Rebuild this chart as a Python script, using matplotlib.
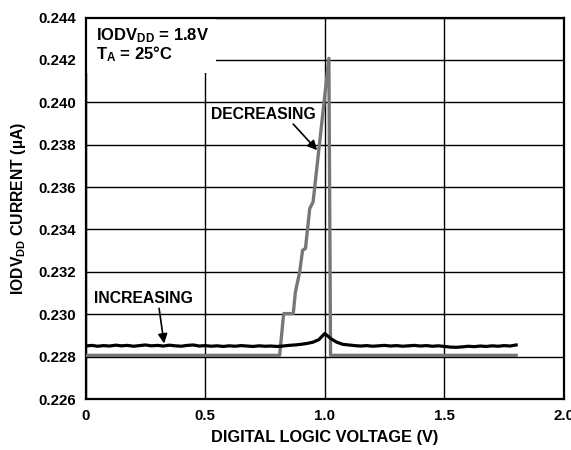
import matplotlib
matplotlib.use("Agg")
import matplotlib.pyplot as plt
from matplotlib.patches import Rectangle

plt.rcParams['font.family'] = ['Liberation Sans', 'DejaVu Sans']
plt.rcParams['font.weight'] = 'bold'
plt.rcParams['mathtext.fontset'] = 'custom'
plt.rcParams['mathtext.rm'] = 'Liberation Sans:bold'
plt.rcParams['mathtext.bf'] = 'Liberation Sans:bold'
plt.rcParams['mathtext.it'] = 'Liberation Sans:bold'

# Increasing sweep (black)
inc_x = [0.000, 0.025, 0.050, 0.075, 0.100, 0.125, 0.150, 0.175, 0.200, 0.225,
         0.250, 0.275, 0.300, 0.325, 0.350, 0.375, 0.400, 0.425, 0.450, 0.475,
         0.500, 0.525, 0.550, 0.575, 0.600, 0.625, 0.650, 0.675, 0.700, 0.725,
         0.750, 0.775, 0.800, 0.825, 0.850, 0.875, 0.900, 0.925, 0.950, 0.975,
         1.000, 1.025, 1.050, 1.075, 1.100, 1.125, 1.150, 1.175, 1.200, 1.225,
         1.250, 1.275, 1.300, 1.325, 1.350, 1.375, 1.400, 1.425, 1.450, 1.475,
         1.500, 1.525, 1.550, 1.575, 1.600, 1.625, 1.650, 1.675, 1.700, 1.725,
         1.750, 1.775, 1.800]
inc_y = [0.22850, 0.22853, 0.22849, 0.22852, 0.22850, 0.22854, 0.22851, 0.22853, 0.22849, 0.22852,
         0.22855, 0.22851, 0.22853, 0.22850, 0.22854, 0.22851, 0.22849, 0.22853, 0.22855, 0.22850,
         0.22852, 0.22849, 0.22851, 0.22848, 0.22851, 0.22849, 0.22852, 0.22850, 0.22848, 0.22851,
         0.22849, 0.22850, 0.22848, 0.22850, 0.22853, 0.22855, 0.22858, 0.22862, 0.22868, 0.22880,
         0.22909, 0.22885, 0.22868, 0.22858, 0.22855, 0.22852, 0.22850, 0.22852, 0.22849, 0.22851,
         0.22853, 0.22850, 0.22852, 0.22849, 0.22851, 0.22853, 0.22850, 0.22852, 0.22849, 0.22851,
         0.22848, 0.22845, 0.22844, 0.22846, 0.22849, 0.22847, 0.22850, 0.22848, 0.22851, 0.22849,
         0.22852, 0.22850, 0.22855]

# Decreasing sweep (gray)
dec_x = [0.000, 0.811, 0.828, 0.868, 0.877, 0.895, 0.907, 0.919, 0.937, 0.951, 1.017, 1.024, 1.800]
dec_y = [0.22806, 0.22806, 0.23003, 0.23003, 0.23105, 0.23200, 0.23302, 0.23310, 0.23499, 0.23530,
         0.24207, 0.22806, 0.22806]

x_ticks = [0, 0.5, 1.0, 1.5, 2.0]
x_ticklabels = ['0', '0.5', '1.0', '1.5', '2.0']
y_ticks = [0.226, 0.228, 0.230, 0.232, 0.234, 0.236, 0.238, 0.240, 0.242, 0.244]
y_ticklabels = ['0.226', '0.228', '0.230', '0.232', '0.234', '0.236', '0.238', '0.240', '0.242', '0.244']

fig = plt.figure(figsize=(5.71, 4.5), dpi=100)
ax = fig.add_axes([0.150, 0.1133, 0.8377, 0.8478])

ax.set_xlim(0, 2.0)
ax.set_ylim(0.226, 0.244)
ax.set_xticks(x_ticks)
ax.set_xticklabels(x_ticklabels)
ax.set_yticks(y_ticks)
ax.set_yticklabels(y_ticklabels)
ax.tick_params(length=0, labelsize=10.8, pad=7)
for lab in ax.get_xticklabels() + ax.get_yticklabels():
    lab.set_fontweight('bold')

ax.set_axisbelow(True)
ax.grid(True, color='black', linewidth=1.0)
for s in ax.spines.values():
    s.set_linewidth(1.6)

ax.add_patch(Rectangle((0, 0.2414), 0.546, 0.0026, facecolor='white', edgecolor='none', zorder=1))

ax.plot(dec_x, dec_y, color='#777777', linewidth=2.4, zorder=3)
ax.plot(inc_x, inc_y, color='black', linewidth=2.3, zorder=4)

ax.text(0.043, 0.24313, r'IODV$_{\mathrm{DD}}$ = 1.8V', fontsize=12, fontweight='bold', va='center', ha='left')
ax.text(0.043, 0.24225, r'T$_{\mathrm{A}}$ = 25°C', fontsize=12, fontweight='bold', va='center', ha='left')

ax.text(0.037, 0.23075, 'INCREASING', fontsize=11.3, fontweight='bold', va='center', ha='left')
ax.annotate('', xy=(0.328, 0.22862), xytext=(0.307, 0.23028),
            arrowprops=dict(arrowstyle='-|>', color='black', lw=1.2,
                            mutation_scale=14, shrinkA=0, shrinkB=0))

ax.text(0.524, 0.23944, 'DECREASING', fontsize=11.3, fontweight='bold', va='center', ha='left')
ax.annotate('', xy=(0.968, 0.23774), xytext=(0.868, 0.23897),
            arrowprops=dict(arrowstyle='-|>', color='black', lw=1.2,
                            mutation_scale=14, shrinkA=0, shrinkB=0))

ax.set_xlabel('DIGITAL LOGIC VOLTAGE (V)', fontsize=11.8, fontweight='bold', labelpad=5)
ax.set_ylabel(r'IODV$_{\mathrm{DD}}$ CURRENT (µA)', fontsize=11.3, fontweight='bold', labelpad=7)

fig.savefig('out.png', dpi=100)
